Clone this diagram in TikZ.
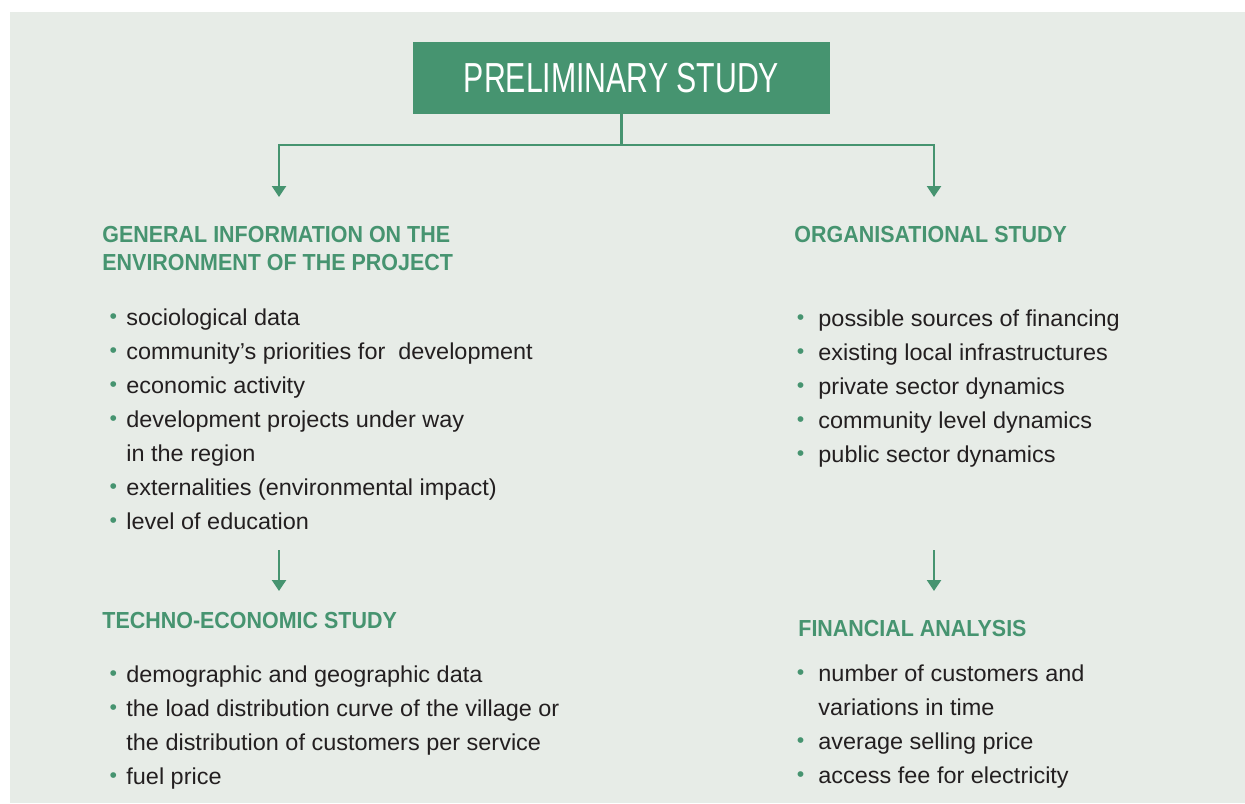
\documentclass[tikz,border=0pt]{standalone}
\usepackage{fontspec}
\setmainfont{Liberation Sans}[FakeStretch=1.02]
\newfontfamily\titlefont[FakeStretch=0.72]{Liberation Sans}
\newfontfamily\headfont[FakeStretch=0.925]{Liberation Sans}
\usetikzlibrary{positioning}
\usetikzlibrary{arrows.meta}
\definecolor{panel}{RGB}{231,236,231}
\definecolor{leaf}{RGB}{70,148,112}
\definecolor{ink}{RGB}{35,31,32}
\newcommand{\dotmark}[1][4.7pt]{\llap{\raisebox{0.9pt}{\fontsize{10.5}{10.5}\selectfont\textcolor{leaf}{\textbullet}}\hspace{#1}}}
\tikzstyle{titlebox}=[rectangle, fill=leaf, text=white, inner sep=0pt, minimum width=208.7pt, minimum height=35.8pt, font=\titlefont\fontsize{21}{21}\selectfont]
\tikzstyle{heading}=[anchor=base west, inner sep=0pt, align=left, text=leaf, font=\headfont\bfseries\fontsize{11.6}{13.7}\selectfont]
\tikzstyle{item}=[anchor=base west, inner sep=0pt, text=ink, font=\fontsize{11.5}{17}\selectfont]
\tikzstyle{link}=[draw=leaf, line width=1.2pt]
\tikzstyle{arrowlink}=+[link, -{Triangle[width=7pt,length=5.5pt]}]

\begin{document}
\begin{tikzpicture}[x=0.5pt, y=-0.5pt]
	\useasboundingbox (0,0) rectangle (1245,803);
	\fill[panel] (10,12) rectangle (1245,803);
	\node (title) at (621.5,77.8) [titlebox] {PRELIMINARY STUDY};
	\coordinate (split) at (621.5,145);
	\coordinate (genin) at (279,197);
	\coordinate (orgin) at (934,197);
	% left column
	\node (gen) at (102,270.3) [heading] {GENERAL INFORMATION ON THE\\ENVIRONMENT OF THE PROJECT};
	\node (g1) at (126,325) [item] {\dotmark sociological data};
	\node (g2) [below=17pt of g1.base west, item] {\dotmark community’s priorities for\ \ development};
	\node (g3) [below=17pt of g2.base west, item] {\dotmark economic activity};
	\node (g4) [below=17pt of g3.base west, item] {\dotmark development projects under way};
	\node (g5) [below=17pt of g4.base west, item] {in the region};
	\node (g6) [below=17pt of g5.base west, item] {\dotmark externalities (environmental impact)};
	\node (g7) [below=17pt of g6.base west, item] {\dotmark level of education};
	\coordinate (genout) at (279,550);
	\coordinate (techin) at (279,591);
	\node (tech) at (102,628.5) [heading] {TECHNO-ECONOMIC STUDY};
	\node (t1) at (126,682) [item] {\dotmark demographic and geographic data};
	\node (t2) [below=17pt of t1.base west, item] {\dotmark the load distribution curve of the village or};
	\node (t3) [below=17pt of t2.base west, item] {the distribution of customers per service};
	\node (t4) [below=17pt of t3.base west, item] {\dotmark fuel price};
	% right column
	\node (org) at (794,242.5) [heading] {ORGANISATIONAL STUDY};
	\node (o1) at (818,326) [item] {\dotmark[7pt]possible sources of financing};
	\node (o2) [below=17pt of o1.base west, item] {\dotmark[7pt]existing local infrastructures};
	\node (o3) [below=17pt of o2.base west, item] {\dotmark[7pt]private sector dynamics};
	\node (o4) [below=17pt of o3.base west, item] {\dotmark[7pt]community level dynamics};
	\node (o5) [below=17pt of o4.base west, item] {\dotmark[7pt]public sector dynamics};
	\coordinate (orgout) at (934,550);
	\coordinate (finin) at (934,591);
	\node (fin) at (798,636.7) [heading] {FINANCIAL ANALYSIS};
	\node (f1) at (818,681) [item] {\dotmark[7pt]number of customers and};
	\node (f2) [below=17pt of f1.base west, item] {variations in time};
	\node (f3) [below=17pt of f2.base west, item] {\dotmark[7pt]average selling price};
	\node (f4) [below=17pt of f3.base west, item] {\dotmark[7pt]access fee for electricity};
	% connectors
	\draw[arrowlink] (title.south) -- (split) -| (genin);
	\draw[arrowlink] (split) -| (orgin);
	\draw[arrowlink] (genout) -- (techin);
	\draw[arrowlink] (orgout) -- (finin);
\end{tikzpicture}
\end{document}
